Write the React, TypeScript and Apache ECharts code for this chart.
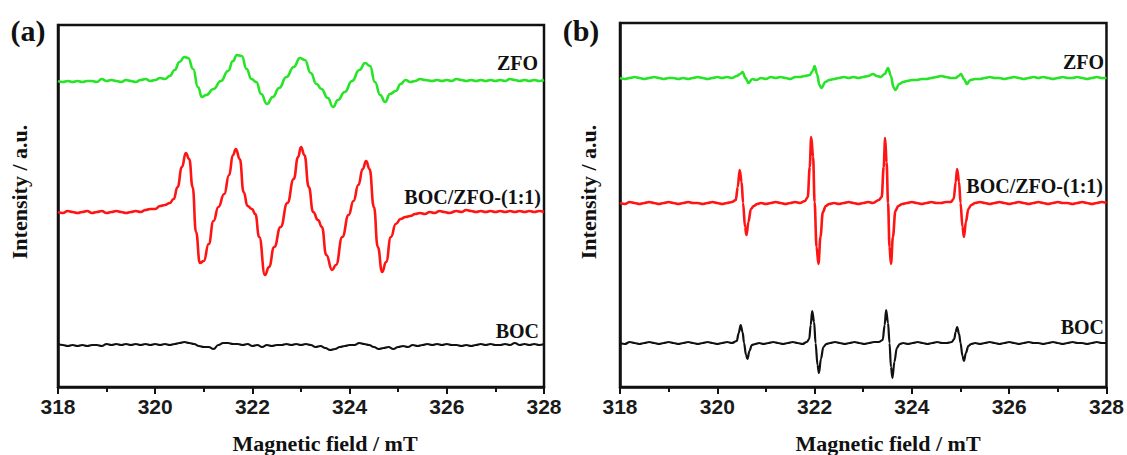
import { useEffect, useRef } from "react";
import * as echarts from "echarts";

const fieldMin = 318;
const fieldMax = 328;
const fieldStep = 2;

const seriesNames = ["ZFO", "BOC/ZFO-(1:1)", "BOC"];
const panelLabels = ["(a)", "(b)"];

// Panel (a) – intensity in arbitrary units (offset stacked)
const zfoA: [number, number][] = [
  [318.0,306],[318.1,305],[318.2,306],[318.3,305],[318.4,306],[318.5,305],[318.6,306],[318.7,306],[318.8,305],[318.9,308],
  [319.0,306],[319.1,307],[319.2,306],[319.3,305],[319.4,307],[319.5,306],[319.6,305],[319.7,307],[319.8,308],[319.9,306],
  [320.0,307],[320.1,309],[320.2,308],[320.3,311],[320.4,317],[320.5,325],[320.6,330],[320.68,329],[320.78,318],[320.88,300],
  [320.96,290],[321.05,292],[321.2,298],[321.35,306],[321.5,316],[321.6,326],[321.68,332],[321.78,331],[321.88,318],[321.98,308],
  [322.08,305],[322.18,293],[322.3,283],[322.42,290],[322.55,299],[322.7,310],[322.85,320],[322.98,329],[323.08,327],[323.2,314],
  [323.32,303],[323.42,298],[323.55,289],[323.66,280],[323.76,287],[323.9,295],[324.05,306],[324.2,317],[324.32,324],[324.42,321],
  [324.52,305],[324.63,292],[324.73,285],[324.83,293],[324.95,296],[325.05,303],[325.15,307],[325.25,305],[325.35,306],[325.45,308],
  [325.55,307],[325.7,306],[325.8,307],[325.9,306],[326.0,307],[326.1,306],[326.2,308],[326.3,307],[326.4,306],[326.5,307],
  [326.6,306],[326.7,307],[326.8,306],[326.9,307],[327.0,306],[327.1,307],[327.2,306],[327.3,308],[327.4,307],[327.5,306],
  [327.6,307],[327.7,306],[327.8,307],[327.9,306],[328.0,307]
];

const bocZfoA: [number, number][] = [
  [318.0,175],[318.1,174],[318.2,176],[318.3,175],[318.4,174],[318.5,175],[318.6,176],[318.7,174],[318.8,175],[318.9,176],
  [319.0,174],[319.1,175],[319.2,176],[319.3,175],[319.4,174],[319.5,175],[319.6,176],[319.7,175],[319.8,177],[319.9,178],
  [320.0,178],[320.1,181],[320.2,182],[320.3,184],[320.38,188],[320.46,200],[320.55,220],[320.63,234],[320.7,228],[320.77,200],
  [320.84,155],[320.92,124],[321.0,126],[321.1,143],[321.2,166],[321.3,180],[321.42,193],[321.52,212],[321.6,232],[321.66,238],
  [321.74,228],[321.82,195],[321.9,181],[321.99,178],[322.06,173],[322.14,150],[322.26,112],[322.34,120],[322.45,140],[322.58,160],
  [322.72,184],[322.85,208],[322.94,230],[323.0,240],[323.07,232],[323.16,200],[323.25,175],[323.35,167],[323.43,160],[323.52,132],
  [323.64,117],[323.72,122],[323.85,150],[323.98,172],[324.08,186],[324.18,202],[324.27,218],[324.34,226],[324.41,218],[324.5,180],
  [324.58,140],[324.67,115],[324.75,125],[324.85,150],[324.95,163],[325.05,168],[325.15,170],[325.25,171],[325.35,173],[325.45,174],
  [325.55,173],[325.65,175],[325.75,174],[325.85,176],[325.95,175],[326.05,174],[326.2,176],[326.3,175],[326.4,177],[326.5,176],
  [326.6,175],[326.7,176],[326.8,175],[326.9,176],[327.0,175],[327.1,176],[327.2,175],[327.3,176],[327.4,175],[327.5,176],
  [327.6,175],[327.7,176],[327.8,175],[327.9,176],[328.0,175]
];

const bocA: [number, number][] = [
  [318.0,43],[318.1,42],[318.2,41],[318.3,42],[318.4,41],[318.5,42],[318.6,41],[318.7,42],[318.8,42],[318.9,41],
  [319.0,43],[319.1,42],[319.2,43],[319.3,42],[319.4,43],[319.5,42],[319.6,43],[319.7,42],[319.8,43],[319.9,42],
  [320.0,43],[320.1,42],[320.2,43],[320.3,42],[320.4,43],[320.5,44],[320.6,45],[320.7,44],[320.8,43],[320.9,41],
  [321.0,40],[321.1,40],[321.2,38],[321.3,42],[321.4,44],[321.5,44],[321.6,43],[321.7,43],[321.8,42],[321.9,43],
  [322.0,41],[322.1,42],[322.2,40],[322.3,42],[322.4,41],[322.5,42],[322.6,42],[322.7,43],[322.8,42],[322.9,43],
  [323.0,42],[323.1,43],[323.2,42],[323.3,40],[323.4,41],[323.5,39],[323.6,37],[323.7,38],[323.8,40],[323.9,41],
  [324.0,42],[324.1,42],[324.2,44],[324.3,43],[324.4,42],[324.5,40],[324.6,38],[324.7,39],[324.8,40],[324.9,38],
  [325.0,40],[325.1,41],[325.2,40],[325.3,42],[325.4,41],[325.5,42],[325.6,43],[325.7,42],[325.8,43],[325.9,42],
  [326.0,43],[326.1,42],[326.2,42],[326.3,41],[326.4,42],[326.5,41],[326.6,42],[326.7,43],[326.8,42],[326.9,43],
  [327.0,42],[327.1,42],[327.2,43],[327.3,42],[327.4,44],[327.5,42],[327.6,43],[327.7,42],[327.8,43],[327.9,42],
  [328.0,43]
];

// Panel (b)
const zfoB: [number, number][] = [
  [318.0,309],[318.1,308],[318.2,309],[318.3,310],[318.4,309],[318.5,308],[318.6,309],[318.7,310],[318.8,309],[318.9,308],
  [319.0,309],[319.1,309],[319.2,308],[319.3,309],[319.4,308],[319.5,309],[319.6,310],[319.7,309],[319.8,308],[319.9,309],
  [320.0,310],[320.1,309],[320.2,310],[320.3,309],[320.4,311],[320.47,313],[320.52,315],[320.58,309],[320.64,304],[320.72,308],
  [320.8,307],[320.9,309],[321.0,308],[321.1,310],[321.2,309],[321.3,310],[321.4,309],[321.5,308],[321.6,310],[321.7,310],
  [321.8,311],[321.9,312],[321.96,316],[322.0,321],[322.05,313],[322.1,302],[322.14,299],[322.22,305],[322.3,307],[322.4,308],
  [322.5,309],[322.6,310],[322.7,309],[322.8,310],[322.9,309],[323.0,310],[323.1,311],[323.2,313],[323.28,311],[323.36,310],
  [323.44,313],[323.51,319],[323.57,311],[323.62,300],[323.66,297],[323.74,303],[323.82,305],[323.9,306],[324.0,307],[324.1,307],
  [324.2,308],[324.3,308],[324.4,309],[324.5,310],[324.6,311],[324.7,310],[324.8,309],[324.9,309],[324.96,311],[325.01,313],
  [325.07,308],[325.13,303],[325.2,307],[325.3,308],[325.4,308],[325.5,309],[325.6,310],[325.7,309],[325.8,309],[325.9,308],
  [326.0,309],[326.1,310],[326.2,309],[326.3,308],[326.4,309],[326.5,310],[326.6,309],[326.7,310],[326.8,309],[326.9,308],
  [327.0,309],[327.1,310],[327.2,309],[327.3,309],[327.4,310],[327.5,309],[327.6,308],[327.7,309],[327.8,310],[327.9,309],
  [328.0,309]
];

const bocZfoB: [number, number][] = [
  [318.0,184],[318.1,183],[318.2,185],[318.3,184],[318.4,183],[318.5,184],[318.6,185],[318.7,184],[318.8,183],[318.9,184],
  [319.0,185],[319.1,184],[319.2,183],[319.3,184],[319.4,185],[319.5,184],[319.6,184],[319.7,183],[319.8,184],[319.9,185],
  [320.0,184],[320.1,183],[320.2,184],[320.3,185],[320.38,187],[320.42,200],[320.46,217],[320.5,205],[320.53,184],[320.57,160],
  [320.6,152],[320.64,165],[320.69,178],[320.75,181],[320.82,183],[320.9,184],[321.0,183],[321.1,184],[321.2,185],[321.3,184],
  [321.4,183],[321.5,184],[321.6,185],[321.7,184],[321.8,186],[321.86,190],[321.9,220],[321.93,250],[321.97,230],[322.0,185],
  [322.04,140],[322.08,123],[322.12,150],[322.17,175],[322.23,181],[322.3,183],[322.4,184],[322.5,183],[322.6,184],[322.7,185],
  [322.8,184],[322.9,183],[323.0,184],[323.1,185],[323.2,184],[323.32,187],[323.38,190],[323.42,220],[323.45,249],[323.48,225],
  [323.51,184],[323.54,140],[323.57,123],[323.61,150],[323.66,176],[323.72,181],[323.8,183],[323.9,184],[324.0,185],[324.1,184],
  [324.2,183],[324.3,184],[324.4,185],[324.5,184],[324.6,184],[324.7,185],[324.8,185],[324.86,188],[324.9,205],[324.93,218],
  [324.97,205],[325.0,184],[325.04,160],[325.07,150],[325.11,165],[325.16,178],[325.22,182],[325.3,184],[325.4,185],[325.5,184],
  [325.6,183],[325.7,184],[325.8,185],[325.9,184],[326.0,183],[326.1,184],[326.2,185],[326.3,184],[326.4,183],[326.5,184],
  [326.6,185],[326.7,184],[326.8,183],[326.9,184],[327.0,185],[327.1,184],[327.2,184],[327.3,183],[327.4,184],[327.5,185],
  [327.6,184],[327.7,183],[327.8,184],[327.9,185],[328.0,184]
];

const bocB: [number, number][] = [
  [318.0,44],[318.1,43],[318.2,45],[318.3,44],[318.4,43],[318.5,44],[318.6,45],[318.7,44],[318.8,43],[318.9,44],
  [319.0,45],[319.1,44],[319.2,43],[319.3,44],[319.4,45],[319.5,44],[319.6,43],[319.7,44],[319.8,45],[319.9,44],
  [320.0,43],[320.1,44],[320.2,45],[320.3,44],[320.4,46],[320.44,54],[320.48,62],[320.52,55],[320.55,44],[320.59,32],
  [320.62,28],[320.66,36],[320.71,42],[320.78,43],[320.86,44],[320.95,43],[321.05,44],[321.15,45],[321.25,44],[321.35,43],
  [321.45,44],[321.55,45],[321.65,44],[321.75,43],[321.84,45],[321.89,48],[321.92,62],[321.95,76],[321.99,65],[322.02,44],
  [322.06,22],[322.09,14],[322.13,28],[322.18,40],[322.24,43],[322.32,44],[322.42,45],[322.52,44],[322.62,43],[322.72,44],
  [322.82,45],[322.92,44],[323.02,43],[323.12,44],[323.22,45],[323.32,45],[323.4,47],[323.44,62],[323.47,77],[323.51,64],
  [323.54,44],[323.57,20],[323.6,9],[323.64,25],[323.69,39],[323.75,43],[323.82,44],[323.92,43],[324.02,44],[324.12,45],
  [324.22,44],[324.32,43],[324.42,44],[324.52,45],[324.62,44],[324.72,44],[324.82,45],[324.87,48],[324.9,55],[324.93,60],
  [324.97,53],[325.0,44],[325.04,31],[325.07,26],[325.11,34],[325.16,41],[325.22,43],[325.3,44],[325.4,43],[325.5,44],
  [325.6,45],[325.7,44],[325.8,43],[325.9,44],[326.0,45],[326.1,44],[326.2,43],[326.3,44],[326.4,45],[326.5,44],
  [326.6,44],[326.7,43],[326.8,44],[326.9,45],[327.0,44],[327.1,43],[327.2,44],[327.3,45],[327.4,44],[327.5,44],
  [327.6,43],[327.7,44],[327.8,45],[327.9,44],[328.0,44]
];

const panelData = [
  [zfoA, bocZfoA, bocA],
  [zfoB, bocZfoB, bocB]
];
const lineColors = ["#28e428", "#ff1414", "#111111"];

export default function App() {
  const ref = useRef<HTMLDivElement>(null);
  useEffect(() => {
    document.body.style.margin = "0";
    const chart = echarts.init(ref.current!, null, { renderer: "svg" });
    const grids = [
      { left: 58, top: 25, width: 486, height: 362 },
      { left: 620, top: 23, width: 488, height: 364 }
    ];
    const yMax = [362, 364];
    const axisColor = "#111111";
    const serif = "'Liberation Serif', 'Times New Roman', serif";
    const sans = "'Liberation Sans', Arial, sans-serif";

    const xAxes = grids.map((_, i) => ({
      type: "value",
      gridIndex: i,
      min: fieldMin,
      max: fieldMax,
      interval: fieldStep,
      axisLine: { show: true, onZero: false, lineStyle: { color: axisColor, width: 2.5 } },
      axisTick: { show: true, inside: false, length: 7, lineStyle: { color: axisColor, width: 2 } },
      minorTick: { show: true, splitNumber: 2, length: 5, lineStyle: { color: axisColor, width: 2 } },
      axisLabel: { fontFamily: sans, fontSize: 21, fontWeight: "bold", color: "#1a1a1a", margin: 9 },
      splitLine: { show: false },
      minorSplitLine: { show: false }
    }));
    const yAxes = grids.map((_, i) => ({
      type: "value",
      gridIndex: i,
      min: 0,
      max: yMax[i],
      axisLine: { show: true, onZero: false, lineStyle: { color: axisColor, width: 2.5 } },
      axisTick: { show: false },
      axisLabel: { show: false },
      splitLine: { show: false }
    }));
    const series: any[] = [];
    panelData.forEach((set, p) => {
      set.forEach((data, k) => {
        series.push({
          type: "line",
          name: seriesNames[k],
          xAxisIndex: p,
          yAxisIndex: p,
          data,
          symbol: "none",
          smooth: p === 0 ? 0.5 : 0.35,
          smoothMonotone: "x",
          lineStyle: { color: lineColors[k], width: k === 2 ? 2.2 : 2.6 },
          z: 3
        });
      });
    });

    const txt = (x: number, y: number, text: string, opts: any = {}) => ({
      type: "text",
      x,
      y,
      rotation: opts.rotation || 0,
      style: {
        text,
        fill: "#111",
        font: `bold ${opts.size || 20}px ${serif}`,
        align: opts.align || "right",
        verticalAlign: "middle"
      },
      z: 10
    });

    const graphic = [
      txt(28, 30, panelLabels[0], { size: 30, align: "center" }),
      txt(581, 30, panelLabels[1], { size: 30, align: "center" }),
      txt(19, 192, "Intensity / a.u.", { size: 22, align: "center", rotation: Math.PI / 2 }),
      txt(588, 192, "Intensity / a.u.", { size: 22, align: "center", rotation: Math.PI / 2 }),
      txt(325, 443, "Magnetic field / mT", { size: 22, align: "center" }),
      txt(888, 443, "Magnetic field / mT", { size: 22, align: "center" }),
      txt(538, 63, seriesNames[0]),
      txt(541, 197, seriesNames[1]),
      txt(539, 331, seriesNames[2]),
      txt(1104, 62, seriesNames[0]),
      txt(1103, 186, seriesNames[1]),
      txt(1104, 327, seriesNames[2])
    ];

    chart.setOption({
      animation: false,
      backgroundColor: "#ffffff",
      grid: grids.map((g) => ({
        ...g,
        show: true,
        borderColor: axisColor,
        borderWidth: 2.5,
        backgroundColor: "transparent"
      })),
      xAxis: xAxes,
      yAxis: yAxes,
      series,
      graphic
    });
    return () => chart.dispose();
  }, []);
  return <div ref={ref} style={{ width: 1127, height: 455 }} />;
}
